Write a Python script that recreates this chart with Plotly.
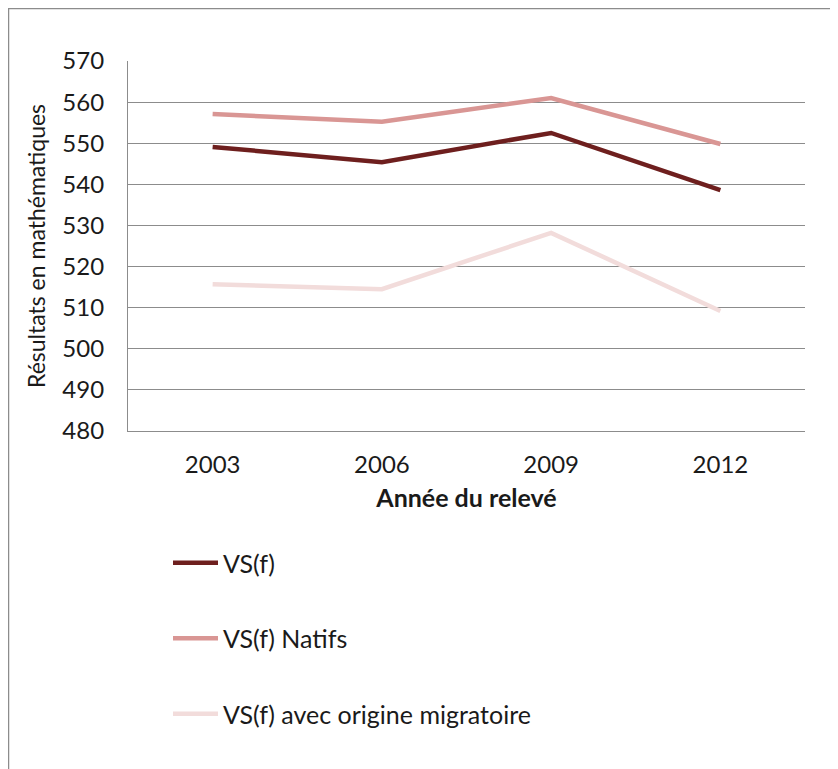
import plotly.graph_objects as go

# data
annees = ["2003", "2006", "2009", "2012"]
vs_f = [549.1, 545.4, 552.5, 538.6]
vs_f_natifs = [557.1, 555.2, 561.0, 549.8]
vs_f_migr = [515.7, 514.5, 528.2, 509.2]

series_names = ["VS(f)", "VS(f) Natifs", "VS(f) avec origine migratoire"]
series_colors = ["#6E1F1E", "#D99694", "#F2DCDB"]

FONT = "Lato"
# the page body adds an 8px offset, so the figure is laid out 8px up/left
W, H = 830, 761
L, R, T, B = 120, 33, 53, 338
pw, ph = W - L - R, H - T - B

fig = go.Figure()
for i, (name, vals, col) in enumerate(zip(series_names, [vs_f, vs_f_natifs, vs_f_migr], series_colors)):
    fig.add_trace(go.Scatter(
        x=annees, y=vals, mode="lines", name=name,
        line=dict(color=col, width=4.5),
        legendgroup=f"g{i}",
    ))

# outer chart border (runs off the right and bottom edges in the reference)
fig.add_shape(
    type="rect", xref="paper", yref="paper",
    x0=(0.5 - L) / pw, x1=(W + 20 - L) / pw,
    y0=-(H + 20 - (T + ph)) / ph, y1=1 + (T - 0.5) / ph,
    line=dict(color="#8C8C8C", width=1.5), fillcolor="rgba(0,0,0,0)", layer="below",
)

fig.update_layout(
    width=W, height=H,
    margin=dict(l=L, r=R, t=T, b=B, autoexpand=False),
    paper_bgcolor="white", plot_bgcolor="white",
    font=dict(family=FONT, size=24, color="#1a1a1a"),
    showlegend=True,
    legend=dict(
        x=(160 - L) / pw, xanchor="left",
        y=-(532 - (T + ph)) / ph, yanchor="top",
        orientation="v", tracegroupgap=40,
        font=dict(family=FONT, size=25, color="#1a1a1a"),
        itemwidth=45,
        bgcolor="rgba(0,0,0,0)",
    ),
    xaxis=dict(
        type="category", range=[-0.5, 3.5],
        showgrid=False, showline=True, linecolor="#8C8C8C", linewidth=1.2,
        ticks="", ticklabelstandoff=12,
        title=dict(text="<b>Année du relevé</b>", font=dict(family=FONT, size=25), standoff=12),
    ),
    yaxis=dict(
        range=[480, 570], dtick=10,
        showgrid=True, gridcolor="#8C8C8C", gridwidth=1.2,
        showline=True, linecolor="#8C8C8C", linewidth=1.2,
        ticks="", ticklabelstandoff=18, zeroline=False,
        title=dict(text="Résultats en mathématiques", font=dict(family=FONT, size=23), standoff=10),
    ),
)

fig.write_html("out.html")
